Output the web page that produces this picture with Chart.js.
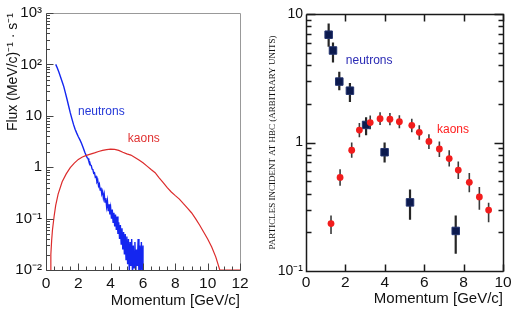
<!DOCTYPE html>
<html>
<head>
<meta charset="UTF-8">
<title>Neutron and kaon momentum spectra</title>
<script src="https://cdn.jsdelivr.net/npm/chart.js@4.4.0/dist/chart.umd.min.js"></script>
<style>
  body { margin: 0; background: #fff; }
  #wrap { position: relative; width: 520px; height: 313px; overflow: hidden; }
  .panel { position: absolute; top: 0; width: 260px; height: 313px; }
</style>
</head>
<body>
<div id="wrap">
  <div class="panel" style="left:0"><canvas id="fluxChart" width="260" height="313"></canvas></div>
  <div class="panel" style="left:260px"><canvas id="countChart" width="260" height="313"></canvas></div>
</div>
<script>
// ---- left panel: flux spectra ----
const fluxTickValues = [0.01, 0.1, 1, 10, 100, 1000];
const fluxTickLabels = ["10\u207B\u00B2", "10\u207B\u00B9", "1", "10", "10\u00B2", "10\u00B3"];

// first two points are the blue edge at p = 0, then a gap
const neutronMomentum = [0, 0, 0.3,
  0.6, 0.7, 0.8, 0.9, 1.0, 1.1, 1.2, 1.3, 1.4, 1.5, 1.6, 1.7, 1.8, 1.9, 2.0, 2.1, 2.2, 2.3, 2.4, 2.5,
  2.55, 2.6, 2.65, 2.7, 2.75, 2.8, 2.85, 2.9, 2.95, 3.0,
  3.05, 3.1, 3.15, 3.2, 3.25, 3.3, 3.35, 3.4, 3.45, 3.5,
  3.55, 3.6, 3.65, 3.7, 3.75, 3.8, 3.85, 3.9, 3.95, 4.0,
  4.05, 4.1, 4.15, 4.2, 4.25, 4.3, 4.35, 4.4, 4.45, 4.5,
  4.55, 4.6, 4.65, 4.7, 4.75, 4.8, 4.85, 4.9, 4.95, 5.0,
  5.05, 5.1, 5.15, 5.2, 5.25, 5.3, 5.35, 5.4, 5.45, 5.5,
  5.55, 5.6, 5.65, 5.7, 5.75, 5.8, 5.85, 5.9, 5.95, 6.0, 6.0];
const neutronFlux = [0.005, 2, null,
  100, 85, 70, 57, 46, 37, 28, 21, 15.5, 11.5, 8.8, 6.8, 5.5, 4.6, 3.9, 3.4, 2.9, 2.4, 1.95, 1.65,
  1.52, 1.48, 1.30, 1.28, 1.10, 1.08, 0.92, 0.90, 0.76, 0.78,
  0.64, 0.66, 0.52, 0.56, 0.43, 0.47, 0.36, 0.40, 0.30, 0.34,
  0.25, 0.30, 0.21, 0.25, 0.17, 0.22, 0.14, 0.19, 0.12, 0.16,
  0.10, 0.15, 0.085, 0.13, 0.07, 0.12, 0.06, 0.11, 0.05, 0.085,
  0.04, 0.075, 0.032, 0.065, 0.025, 0.055, 0.02, 0.05, 0.016, 0.045,
  0.013, 0.04, 0.009, 0.035, 0.012, 0.04, 0.008, 0.03, 0.011, 0.035,
  0.008, 0.025, 0.012, 0.04, 0.008, 0.03, 0.01, 0.035, 0.008, 0.03, 0.005];

const kaonMomentum = [0.25, 0.3, 0.35, 0.4, 0.5, 0.6, 0.75,
  1.0, 1.25, 1.5, 1.75, 2.0, 2.25, 2.5, 2.75, 3.0, 3.25,
  3.5, 3.75, 4.0, 4.25, 4.5, 4.75, 5.0, 5.25, 5.5, 5.75,
  6.0, 6.25, 6.5, 6.75, 7.0, 7.25, 7.5, 7.75, 8.0, 8.25,
  8.5, 8.75, 9.0, 9.25, 9.5, 9.75, 10.0, 10.25, 10.5, 10.75, 12];
const kaonFlux = [0.008, 0.02, 0.038, 0.06, 0.11, 0.18, 0.3,
  0.52, 0.74, 0.98, 1.2, 1.42, 1.58, 1.7, 1.8, 1.9, 2.02,
  2.12, 2.2, 2.25, 2.22, 2.12, 1.95, 1.82, 1.72, 1.55, 1.38,
  1.22, 1.05, 0.9, 0.78, 0.62, 0.5, 0.4, 0.33, 0.28, 0.24,
  0.195, 0.16, 0.13, 0.1, 0.075, 0.055, 0.04, 0.028, 0.018, 0.01, 0.01];

// ---- right panel: measured particles at HBC ----
const countTickValues = [0.1, 1, 10];
const countTickLabels = ["10\u207B\u00B9", "1", "10"];

const nMomentum = [1.15, 1.37, 1.69, 2.23, 3.05, 3.99, 5.28, 7.6];
const nCount = [6.9, 5.2, 2.98, 2.53, 1.37, 0.84, 0.342, 0.205];
const nLow = [5.55, 4.2, 2.55, 2.07, 1.14, 0.7, 0.25, 0.136];
const nHigh = [8.45, 6.0, 3.55, 2.9, 1.57, 1.0, 0.43, 0.27];

const kMomentum = [1.27, 1.73, 2.32, 2.71, 3.26, 3.76, 4.26, 4.74, 5.37, 5.75, 6.24, 6.77, 7.27, 7.73, 8.29, 8.8, 9.27];
const kCount = [0.234, 0.535, 0.87, 1.25, 1.43, 1.53, 1.52, 1.45, 1.36, 1.2, 1.02, 0.89, 0.75, 0.61, 0.49, 0.377, 0.298];
const kLow = [0.194, 0.46, 0.76, 1.1, 1.27, 1.37, 1.36, 1.29, 1.2, 1.05, 0.89, 0.77, 0.65, 0.52, 0.41, 0.30, 0.24];
const kHigh = [0.27, 0.62, 1.0, 1.42, 1.62, 1.72, 1.70, 1.63, 1.53, 1.36, 1.16, 1.02, 0.87, 0.71, 0.58, 0.45, 0.34];

const sans = "'Liberation Sans', Arial, sans-serif";
const serif = "'Liberation Serif', 'Times New Roman', serif";

function points(xs, ys) {
  return xs.map((x, i) => ({ x: x, y: ys[i] }));
}

function logTicks(min, max) {
  const ticks = [];
  const e0 = Math.round(Math.log10(min)), e1 = Math.round(Math.log10(max));
  for (let e = e0; e < e1; e++) {
    for (let s = 1; s < 10; s++) ticks.push({ value: s * Math.pow(10, e), major: s === 1 });
  }
  ticks.push({ value: max, major: true });
  return ticks;
}

function stepTicks(min, max, step) {
  const ticks = [];
  for (let v = min; v <= max + 1e-9; v += step) ticks.push({ value: Math.round(v * 100) / 100 });
  return ticks;
}

function labelFor(values, labels) {
  return v => {
    const i = values.findIndex(t => Math.abs(t / v - 1) < 1e-9);
    return i < 0 ? '' : labels[i];
  };
}

// frame and inward tick marks, ROOT style
function frameTicks(cfg) {
  return {
    id: 'frameTicks',
    afterDatasetsDraw(chart) {
      const { ctx, chartArea: a, scales: { x, y } } = chart;
      ctx.save();
      ctx.lineWidth = cfg.width;
      const L = Math.round(a.left) + 0.5, R = Math.round(a.right) + 0.5;
      const T = Math.round(a.top) + 0.5, B = Math.round(a.bottom) + 0.5;
      ctx.strokeStyle = cfg.farColor;
      ctx.beginPath();
      ctx.moveTo(L, T); ctx.lineTo(R, T); ctx.lineTo(R, B);
      ctx.stroke();
      ctx.strokeStyle = cfg.color;
      ctx.beginPath();
      ctx.moveTo(L, T); ctx.lineTo(L, B); ctx.lineTo(R, B);
      x.ticks.forEach(t => {
        const px = Math.round(x.getPixelForValue(t.value)) + 0.5;
        const len = Math.abs(t.value % 2) < 1e-6 ? cfg.xMajor : cfg.xMinor;
        ctx.moveTo(px, B); ctx.lineTo(px, B - len);
        if (cfg.topTicks) { ctx.moveTo(px, T); ctx.lineTo(px, T + len); }
      });
      y.ticks.forEach(t => {
        const py = Math.round(y.getPixelForValue(t.value)) + 0.5;
        const len = t.major ? cfg.yMajor : cfg.yMinor;
        ctx.moveTo(L, py); ctx.lineTo(L + len, py);
        if (cfg.rightTicks) { ctx.moveTo(R, py); ctx.lineTo(R - len, py); }
      });
      ctx.stroke();
      ctx.restore();
    }
  };
}

function textLabels(items) {
  return {
    id: 'textLabels',
    afterDatasetsDraw(chart) {
      const { ctx, scales: { x, y } } = chart;
      ctx.save();
      ctx.textBaseline = 'middle';
      ctx.textAlign = 'left';
      items.forEach(it => {
        ctx.font = it.size + 'px ' + sans;
        ctx.fillStyle = it.color;
        ctx.fillText(it.text, x.getPixelForValue(it.x), y.getPixelForValue(it.y));
      });
      ctx.restore();
    }
  };
}

// vertical error bars under the markers
const errorBars = {
  id: 'errorBars',
  beforeDatasetsDraw(chart) {
    const { ctx, scales: { x, y } } = chart;
    const sets = [
      { xs: kMomentum, lo: kLow, hi: kHigh, color: '#3a3a3a', width: 1.6 },
      { xs: nMomentum, lo: nLow, hi: nHigh, color: '#262626', width: 2.2 }
    ];
    ctx.save();
    sets.forEach(s => {
      ctx.strokeStyle = s.color;
      ctx.lineWidth = s.width;
      ctx.beginPath();
      s.xs.forEach((v, i) => {
        const px = x.getPixelForValue(v);
        ctx.moveTo(px, y.getPixelForValue(s.lo[i]));
        ctx.lineTo(px, y.getPixelForValue(s.hi[i]));
      });
      ctx.stroke();
    });
    ctx.restore();
  }
};

Chart.defaults.font.family = sans;
Chart.defaults.color = '#111';

const noGrid = { display: false, drawTicks: false };

new Chart(document.getElementById('fluxChart'), {
  type: 'line',
  data: {
    datasets: [
      { label: 'kaons', data: points(kaonMomentum, kaonFlux), borderColor: '#dc2b2b', borderWidth: 1.2, pointRadius: 0, tension: 0 },
      { label: 'neutrons', data: points(neutronMomentum, neutronFlux), borderColor: '#1426f0', borderWidth: 1.4, pointRadius: 0, tension: 0 }
    ]
  },
  options: {
    responsive: false,
    animation: false,
    layout: { padding: { top: 10, right: 20, left: 0, bottom: 0 } },
    plugins: { legend: { display: false }, tooltip: { enabled: false } },
    scales: {
      x: {
        type: 'linear', min: 0, max: 12,
        grid: noGrid, border: { display: false },
        afterBuildTicks: s => { s.ticks = stepTicks(0, 12, 0.5); },
        afterFit: s => { s.height = 43; },
        ticks: { autoSkip: false, maxRotation: 0, padding: 4, font: { size: 15.5 },
          callback: v => Math.abs(v % 2) < 1e-6 ? String(v) : '' },
        title: { display: true, text: 'Momentum [GeV/c]', align: 'end', font: { size: 15 },
          padding: { top: 0, bottom: 3 } }
      },
      y: {
        type: 'logarithmic', min: 0.01, max: 1000,
        grid: noGrid, border: { display: false },
        afterBuildTicks: s => { s.ticks = logTicks(0.01, 1000); },
        afterFit: s => { s.width = 46; },
        ticks: { autoSkip: false, padding: 4, font: { size: 15 },
          callback: labelFor(fluxTickValues, fluxTickLabels) },
        title: { display: true, text: 'Flux (MeV/c)\u207B\u00B9 \u00B7 s\u207B\u00B9', align: 'end',
          font: { size: 14 }, padding: { top: 5, bottom: 0 } }
      }
    }
  },
  plugins: [
    frameTicks({ color: '#444', farColor: '#999', width: 1, xMajor: 7, xMinor: 4, yMajor: 7, yMinor: 3.5 }),
    textLabels([
      { text: 'neutrons', x: 1.98, y: 12.2, color: '#2438d8', size: 12 },
      { text: 'kaons', x: 5.06, y: 3.66, color: '#e03232', size: 12 }
    ])
  ]
});

new Chart(document.getElementById('countChart'), {
  type: 'scatter',
  data: {
    datasets: [
      { label: 'kaons', data: points(kMomentum, kCount), pointStyle: 'circle', pointRadius: 3.4,
        backgroundColor: '#f21c1c', borderColor: '#f21c1c', borderWidth: 0 },
      { label: 'neutrons', data: points(nMomentum, nCount), pointStyle: 'rect', pointRadius: 5.3,
        backgroundColor: '#0c1a4e', borderColor: '#23336e', borderWidth: 1 }
    ]
  },
  options: {
    responsive: false,
    animation: false,
    layout: { padding: { top: 14, right: 17, left: 0, bottom: 0 } },
    plugins: { legend: { display: false }, tooltip: { enabled: false } },
    scales: {
      x: {
        type: 'linear', min: 0, max: 10,
        grid: noGrid, border: { display: false },
        afterBuildTicks: s => { s.ticks = stepTicks(0, 10, 2); },
        afterFit: s => { s.height = 42; },
        ticks: { autoSkip: false, maxRotation: 0, padding: 2, font: { size: 15.5 }, callback: v => String(v) },
        title: { display: true, text: 'Momentum [GeV/c]', align: 'end', font: { size: 15 },
          padding: { top: 0, bottom: 5 } }
      },
      y: {
        type: 'logarithmic', min: 0.1, max: 10,
        grid: noGrid, border: { display: false },
        afterBuildTicks: s => { s.ticks = logTicks(0.1, 10); },
        afterFit: s => { s.width = 46; },
        ticks: { autoSkip: false, padding: 3, font: { size: 14 },
          callback: labelFor(countTickValues, countTickLabels) },
        title: { display: true, text: 'PARTICLES INCIDENT AT HBC (ARBITRARY UNITS)',
          font: { family: serif, size: 9 }, padding: { top: 7, bottom: 0 } }
      }
    }
  },
  plugins: [
    errorBars,
    frameTicks({ color: '#1a1a1a', farColor: '#1a1a1a', width: 1.5, xMajor: 7, xMinor: 4, yMajor: 9, yMinor: 5,
      topTicks: true, rightTicks: true }),
    textLabels([
      { text: 'neutrons', x: 2.02, y: 4.37, color: '#2a2ab4', size: 12 },
      { text: 'kaons', x: 6.65, y: 1.26, color: '#ff2020', size: 12 }
    ])
  ]
});
</script>
</body>
</html>
